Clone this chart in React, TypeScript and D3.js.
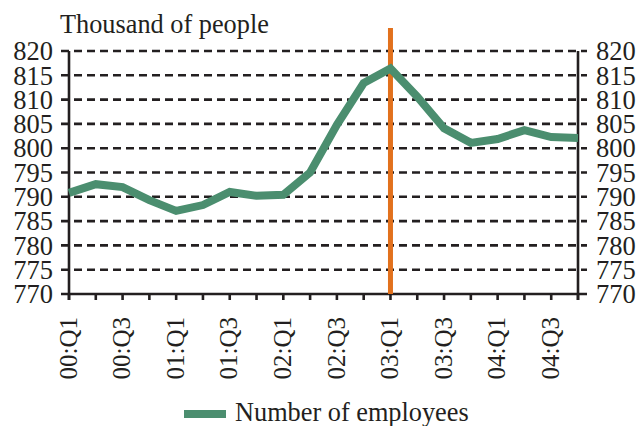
import React from "react";
import * as d3 from "d3";

const quarters = [
  "00:Q1","00:Q2","00:Q3","00:Q4",
  "01:Q1","01:Q2","01:Q3","01:Q4",
  "02:Q1","02:Q2","02:Q3","02:Q4",
  "03:Q1","03:Q2","03:Q3","03:Q4",
  "04:Q1","04:Q2","04:Q3","04:Q4",
];
const employees = [
  790.8, 792.6, 792.0, 789.3, 787.1, 788.3, 791.0, 790.2, 790.4, 795.0,
  804.8, 813.4, 816.4, 810.6, 804.1, 801.1, 801.9, 803.7, 802.3, 802.1,
];
const yTicks = [770, 775, 780, 785, 790, 795, 800, 805, 810, 815, 820];
const xLabels = ["00:Q1","00:Q3","01:Q1","01:Q3","02:Q1","02:Q3","03:Q1","03:Q3","04:Q1","04:Q3"];
const markerQuarter = "03:Q1";
const seriesName = "Number of employees";
const yTitle = "Thousand of people";

const W = 641, H = 426;
const left = 69, right = 578, top = 51, bottom = 294;
const FONT = "'Liberation Serif', 'Times New Roman', serif";
const GREEN = "#4b8e6f";
const ORANGE = "#e2711d";
const INK = "#231f20";

export default function App() {
  const x = d3.scalePoint<string>().domain(quarters).range([left, right]);
  const y = d3.scaleLinear().domain([770, 820]).range([bottom, top]);
  const line = d3
    .line<number>()
    .x((_, i) => x(quarters[i])!)
    .y((d) => y(d));

  const mx = x(markerQuarter)!;

  return (
    <svg
      width={W}
      height={H}
      style={{ position: "absolute", left: 0, top: 0, background: "#fff" }}
      fontFamily={FONT}
    >
      <rect width={W} height={H} fill="#fff" />
      {yTicks.slice(1).map((t) => (
        <line
          key={"g" + t}
          x1={left - 8}
          x2={right + 9}
          y1={y(t)}
          y2={y(t)}
          stroke={INK}
          strokeWidth={2.6}
          strokeDasharray="8,5"
        />
      ))}
      <line x1={left} x2={left} y1={top} y2={bottom + 6} stroke={INK} strokeWidth={2.6} />
      <line x1={right} x2={right} y1={top} y2={bottom + 6} stroke={INK} strokeWidth={2.6} />
      <line x1={left - 8} x2={right + 9} y1={bottom} y2={bottom} stroke={INK} strokeWidth={2.6} />
      {quarters.map((q) => (
        <line key={"t" + q} x1={x(q)!} x2={x(q)!} y1={bottom} y2={bottom + 6} stroke={INK} strokeWidth={2.6} />
      ))}
      {yTicks.map((t) => (
        <g key={"l" + t}>
          <text x={53} y={y(t)} dy="0.35em" textAnchor="end" fontSize={26.5} fill={INK}>
            {t}
          </text>
          <text x={596} y={y(t)} dy="0.35em" textAnchor="start" fontSize={26.5} fill={INK}>
            {t}
          </text>
        </g>
      ))}
      {xLabels.map((q) => (
        <text
          key={"x" + q}
          transform={`translate(${x(q)! - 1},317) rotate(-90)`}
          dy="0.35em"
          textAnchor="end"
          fontSize={25}
          fill={INK}
        >
          {q}
        </text>
      ))}
      <text x={60} y={33} fontSize={26.3} fill={INK}>
        {yTitle}
      </text>
      <line x1={mx} x2={mx} y1={28} y2={bottom} stroke={ORANGE} strokeWidth={5} />
      <path d={line(employees) || ""} fill="none" stroke={GREEN} strokeWidth={8} strokeLinejoin="miter" />
      <rect x={184} y={410} width={42} height={8} fill={GREEN} />
      <text x={235} y={421} fontSize={26.3} fill={INK}>
        {seriesName}
      </text>
    </svg>
  );
}
